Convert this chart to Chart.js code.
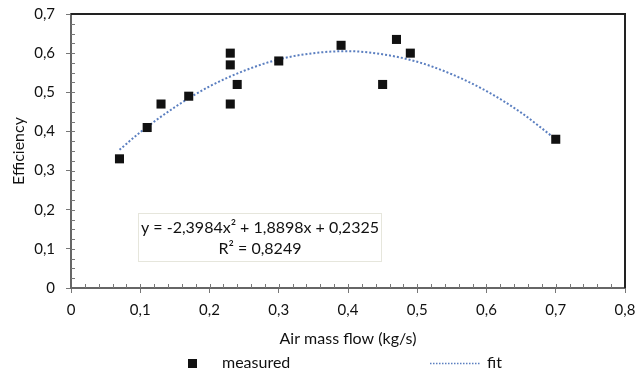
<!DOCTYPE html>
<html>
<head>
<meta charset="utf-8">
<script src="https://cdn.jsdelivr.net/npm/chart.js@4.4.0/dist/chart.umd.min.js"></script>
<style>
  html, body { margin: 0; padding: 0; background: #fff; }
</style>
</head>
<body>
<canvas id="chart" width="638" height="375"></canvas>
<script>
// measured points
const massFlow   = [0.07, 0.11, 0.13, 0.17, 0.23, 0.23, 0.23, 0.24, 0.30, 0.39, 0.45, 0.47, 0.49, 0.70];
const efficiency = [0.33, 0.41, 0.47, 0.49, 0.60, 0.57, 0.47, 0.52, 0.58, 0.62, 0.52, 0.635, 0.60, 0.38];

// fit curve
const fitX = [0.07, 0.10, 0.15, 0.20, 0.25, 0.30, 0.35, 0.40, 0.45, 0.50, 0.55, 0.60, 0.65, 0.70];
const fitY = [0.353, 0.398, 0.462, 0.515, 0.555, 0.584, 0.600, 0.605, 0.597, 0.578, 0.546, 0.503, 0.448, 0.380];

const eqLines = ['y = -2,3984x² + 1,8898x + 0,2325', 'R² = 0,8249'];

const FONT = 'Lato, "Liberation Sans", sans-serif';
const fmt = v => String(Math.round(v * 10) / 10).replace('.', ',');

const extras = {
  id: 'extras',
  afterDraw(chart) {
    const { ctx, chartArea: a, scales: { x, y } } = chart;
    ctx.save();

    // minor ticks, inside the plot
    ctx.strokeStyle = '#777';
    ctx.lineWidth = 1;
    ctx.beginPath();
    for (let i = 1; i < 40; i++) {
      const px = Math.round(x.getPixelForValue(i * 0.02)) + 0.5;
      ctx.moveTo(px, a.bottom);
      ctx.lineTo(px, a.bottom - 4);
    }
    for (let i = 1; i < 28; i++) {
      const py = Math.round(y.getPixelForValue(i * 0.025)) + 0.5;
      ctx.moveTo(a.left, py);
      ctx.lineTo(a.left + 4, py);
    }
    ctx.stroke();

    // frame top and right
    ctx.strokeStyle = '#222';
    ctx.lineWidth = 2;
    ctx.beginPath();
    ctx.moveTo(a.left, a.top);
    ctx.lineTo(a.right, a.top);
    ctx.lineTo(a.right, a.bottom);
    ctx.stroke();

    // equation box
    ctx.fillStyle = '#fff';
    ctx.fillRect(138, 213, 243, 48);
    ctx.strokeStyle = '#e6e6dc';
    ctx.lineWidth = 1;
    ctx.strokeRect(138.5, 213.5, 243, 48);
    ctx.fillStyle = '#111';
    ctx.font = '16px ' + FONT;
    ctx.textAlign = 'center';
    ctx.textBaseline = 'middle';
    ctx.fillText(eqLines[0], 260, 228);
    ctx.fillText(eqLines[1], 260, 249);

    // legend
    ctx.fillStyle = '#111';
    ctx.fillRect(188, 359, 9, 9);
    ctx.textAlign = 'left';
    ctx.fillText('measured', 222, 363);
    ctx.strokeStyle = '#5b7fc0';
    ctx.lineWidth = 1.5;
    ctx.setLineDash([1.5, 1.5]);
    ctx.beginPath();
    ctx.moveTo(430, 363.5);
    ctx.lineTo(480, 363.5);
    ctx.stroke();
    ctx.setLineDash([]);
    ctx.fillText('fit', 487, 363);

    ctx.restore();
  }
};

new Chart(document.getElementById('chart'), {
  type: 'scatter',
  data: {
    datasets: [
      {
        label: 'measured',
        data: massFlow.map((v, i) => ({ x: v, y: efficiency[i] })),
        pointStyle: 'rect',
        pointRadius: 6.4,
        pointHoverRadius: 6.4,
        backgroundColor: '#111',
        borderColor: '#111',
        borderWidth: 0,
        order: 0
      },
      {
        label: 'fit',
        data: fitX.map((v, i) => ({ x: v, y: fitY[i] })),
        showLine: true,
        pointRadius: 0,
        borderColor: '#5b7fc0',
        borderWidth: 2,
        borderDash: [2, 2],
        tension: 0.4,
        cubicInterpolationMode: 'monotone',
        order: 1
      }
    ]
  },
  options: {
    responsive: false,
    animation: false,
    layout: { padding: { left: 0, top: 14, right: 13, bottom: 27 } },
    plugins: {
      legend: { display: false },
      tooltip: { enabled: false }
    },
    scales: {
      x: {
        type: 'linear',
        min: 0,
        max: 0.8,
        afterFit: s => { s.height = 60; s.paddingLeft = 0; s.paddingRight = 0; },
        ticks: {
          stepSize: 0.1,
          padding: 8,
          color: '#111',
          font: { family: FONT, size: 15 },
          callback: fmt
        },
        grid: { drawOnChartArea: false, tickLength: 5, color: '#777' },
        border: { color: '#666', width: 2 },
        title: {
          display: true,
          text: 'Air mass flow (kg/s)',
          color: '#111',
          padding: { top: 1, bottom: 0 },
          font: { family: FONT, size: 16 }
        }
      },
      y: {
        min: 0,
        max: 0.7,
        afterFit: s => { s.width = 71; s.paddingTop = 0; s.paddingBottom = 0; },
        ticks: {
          stepSize: 0.1,
          padding: 11,
          color: '#111',
          font: { family: FONT, size: 15 },
          callback: fmt
        },
        grid: { drawOnChartArea: false, tickLength: 5, color: '#777' },
        border: { color: '#666', width: 2 },
        title: {
          display: true,
          text: 'Efficiency',
          color: '#111',
          padding: { top: 9, bottom: 0 },
          font: { family: FONT, size: 16 }
        }
      }
    }
  },
  plugins: [extras]
});
</script>
</body>
</html>
